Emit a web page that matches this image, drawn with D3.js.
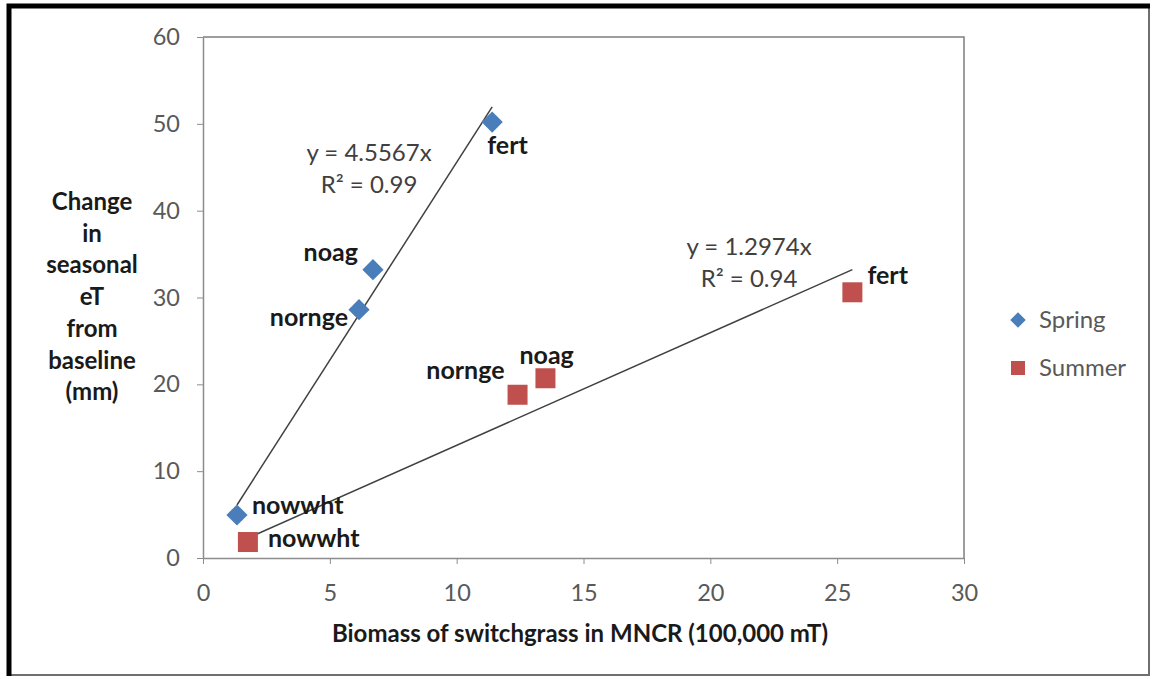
<!DOCTYPE html>
<html>
<head>
<meta charset="utf-8">
<script src="https://cdn.jsdelivr.net/npm/d3@7"></script>
<style>
  body { margin: 0; background: #fff; }
  svg text { font-family: Lato, "Liberation Sans", sans-serif; }
  .tick text { fill: #595959; font-size: 23.5px; }
  .tick line, .domain { stroke: #8c8c8c; }
  .ptLabel { font-weight: bold; font-size: 25px; fill: #1a1a1a; }
  .eqLabel { font-size: 24px; fill: #404040; }
  .axisTitle { font-weight: bold; font-size: 24px; fill: #1a1a1a; }
  .legendText { font-size: 24px; fill: #595959; }
</style>
</head>
<body>
<div id="chart"></div>
<script>
"use strict";

// point names (same order in both series)
const sites = ["nowwht", "nornge", "noag", "fert"];

// Spring series
const springX = [1.34, 6.15, 6.7, 11.4];
const springY = [4.95, 28.6, 33.2, 50.2];

// Summer series
const summerX = [1.77, 12.4, 13.5, 25.6];
const summerY = [1.84, 18.8, 20.7, 30.6];

// linear trend through origin (slope, R2)
const springSlope = 4.5567, springR2 = "0.99";
const summerSlope = 1.2974, summerR2 = "0.94";

const xTicks = [0, 5, 10, 15, 20, 25, 30];
const yTicks = [0, 10, 20, 30, 40, 50, 60];
const yTitle = ["Change", "in", "seasonal", "eT", "from", "baseline", "(mm)"];
const xTitle = "Biomass of switchgrass in MNCR (100,000 mT)";

// label placement in px relative to the marker
const springLabelPos = [[15, -10, "start"], [-11, 8, "end"], [-15, -17, "end"], [-5, 23, "start"]];
const summerLabelPos = [[20, -4, "start"], [-13, -25, "end"], [-26, -23, "start"], [15, -17, "start"]];

const W = 1155, H = 679;
const margin = {top: 37, left: 203, right: W - 964, bottom: H - 558};
const width = W - margin.left - margin.right;
const height = H - margin.top - margin.bottom;

const blue = "#4a7ebb", red = "#c0504d";

const svg = d3.select("#chart").append("svg")
  .attr("width", W).attr("height", H);

// outer frame
svg.append("rect").attr("x", 9).attr("y", 6).attr("width", 1140).attr("height", 669)
  .attr("fill", "none").attr("stroke", "#6f6f6f").attr("stroke-width", 2);
svg.append("path").attr("d", "M9,676 L9,6 L1150,6")
  .attr("fill", "none").attr("stroke", "#000").attr("stroke-width", 5);

const g = svg.append("g").attr("transform", `translate(${margin.left},${margin.top})`);

const x = d3.scaleLinear().domain([0, 30]).range([0, width]);
const y = d3.scaleLinear().domain([0, 60]).range([height, 0]);

// plot area frame (top and right)
g.append("path").attr("d", `M0,0 L${width},0 L${width},${height}`)
  .attr("fill", "none").attr("stroke", "#7f7f7f").attr("stroke-width", 1.5);

// axes
g.append("g").attr("transform", `translate(0,${height})`)
  .call(d3.axisBottom(x).tickValues(xTicks).tickSize(6).tickSizeOuter(0).tickPadding(20));
g.append("g")
  .call(d3.axisLeft(y).tickValues(yTicks).tickSize(6).tickSizeOuter(0).tickPadding(17));
g.selectAll(".domain").attr("stroke-width", 1.5);

// axis titles
svg.append("text").attr("class", "axisTitle")
  .attr("x", 580).attr("y", 642).attr("text-anchor", "middle").text(xTitle);

svg.append("g").selectAll("text").data(yTitle).enter().append("text")
  .attr("class", "axisTitle")
  .attr("x", 92).attr("y", (d, i) => 210 + i * 31.7)
  .attr("text-anchor", "middle").text(d => d);

// trendlines
const trend = [
  {slope: springSlope, xs: springX},
  {slope: summerSlope, xs: summerX}
];
g.selectAll(".trend").data(trend).enter().append("line")
  .attr("class", "trend")
  .attr("x1", d => x(d3.min(d.xs))).attr("y1", d => y(d.slope * d3.min(d.xs)))
  .attr("x2", d => x(d3.max(d.xs))).attr("y2", d => y(d.slope * d3.max(d.xs)))
  .attr("stroke", "#404040").attr("stroke-width", 1.5);

// equations
const eqs = [
  {t1: `y = ${springSlope}x`, t2: `R² = ${springR2}`, px: 369, py: 161},
  {t1: `y = ${summerSlope}x`, t2: `R² = ${summerR2}`, px: 749, py: 255}
];
eqs.forEach(e => {
  svg.append("text").attr("class", "eqLabel").attr("x", e.px).attr("y", e.py)
    .attr("text-anchor", "middle").text(e.t1);
  svg.append("text").attr("class", "eqLabel").attr("x", e.px).attr("y", e.py + 32)
    .attr("text-anchor", "middle").text(e.t2);
});

// points
const springData = sites.map((s, i) => ({name: s, x: springX[i], y: springY[i], pos: springLabelPos[i]}));
const summerData = sites.map((s, i) => ({name: s, x: summerX[i], y: summerY[i], pos: summerLabelPos[i]}));

g.selectAll(".spring").data(springData).enter().append("rect")
  .attr("class", "spring")
  .attr("x", -7.5).attr("y", -7.5).attr("width", 15).attr("height", 15)
  .attr("transform", d => `translate(${x(d.x)},${y(d.y)}) rotate(45)`)
  .attr("fill", blue);

g.selectAll(".summer").data(summerData).enter().append("rect")
  .attr("class", "summer")
  .attr("x", d => x(d.x) - 10).attr("y", d => y(d.y) - 10)
  .attr("width", 20).attr("height", 20)
  .attr("fill", red);

// data labels
g.selectAll(".ptLabel").data(springData.concat(summerData)).enter().append("text")
  .attr("class", "ptLabel")
  .attr("x", d => x(d.x) + d.pos[0]).attr("y", d => y(d.y) + d.pos[1])
  .attr("dy", "0.35em")
  .attr("text-anchor", d => d.pos[2])
  .text(d => d.name);

// legend
const legend = svg.append("g").attr("transform", "translate(1018,320)");
legend.append("rect").attr("x", -5.5).attr("y", -5.5).attr("width", 11).attr("height", 11)
  .attr("transform", "rotate(45)").attr("fill", blue);
legend.append("text").attr("class", "legendText").attr("x", 21).attr("dy", "0.35em").text("Spring");
legend.append("rect").attr("x", -7).attr("y", 48 - 7).attr("width", 14).attr("height", 14).attr("fill", red);
legend.append("text").attr("class", "legendText").attr("x", 21).attr("y", 48).attr("dy", "0.35em").text("Summer");
</script>
</body>
</html>
